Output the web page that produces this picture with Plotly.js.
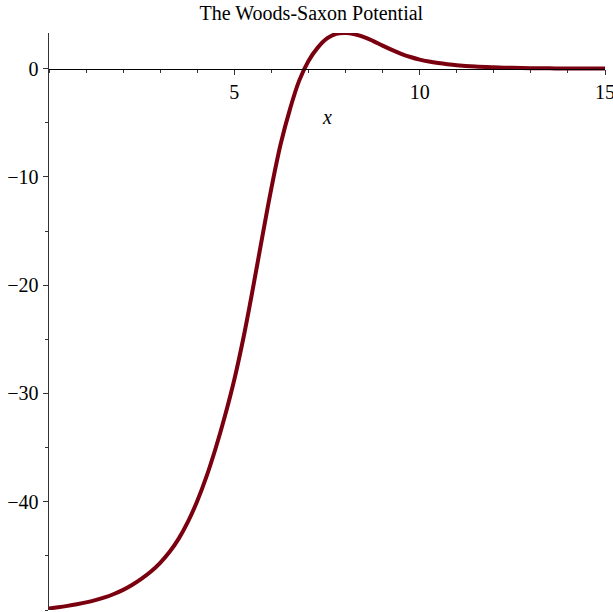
<!DOCTYPE html>
<html>
<head>
<meta charset="utf-8">
<script src="https://cdn.plot.ly/plotly-3.0.1.min.js"></script>
<style>html,body{margin:0;padding:0;background:#fff;}#plot{width:613px;height:612px;}</style>
</head>
<body>
<div id="plot"></div>
<script>
const xValues = [0, 0.25, 0.5, 0.75, 1.0, 1.25, 1.5, 1.75, 2.0, 2.25, 2.5, 2.75, 3.0, 3.25, 3.5, 3.75, 4.0, 4.25, 4.5, 4.75, 5.0, 5.25, 5.5, 5.75, 6.0, 6.25, 6.5, 6.75, 7.0, 7.25, 7.5, 7.75, 8.0, 8.25, 8.5, 8.75, 9.0, 9.25, 9.5, 9.75, 10.0, 10.25, 10.5, 10.75, 11.0, 11.5, 12.0, 12.5, 13.0, 13.5, 14.0, 15.0];
const potential = [-49.86, -49.75, -49.62, -49.47, -49.30, -49.09, -48.84, -48.52, -48.14, -47.67, -47.11, -46.45, -45.64, -44.65, -43.41, -41.84, -39.93, -37.66, -35.01, -32.04, -28.71, -24.78, -20.31, -15.61, -11.03, -6.96, -3.75, -1.1, 0.72, 1.95, 2.8, 3.22, 3.29, 3.17, 2.93, 2.55, 2.13, 1.74, 1.38, 1.08, 0.84, 0.66, 0.52, 0.41, 0.32, 0.2, 0.13, 0.08, 0.05, 0.035, 0.02, 0.01];
const yTickVals = [0, -10, -20, -30, -40];
const yTickText = ["0", "\u221210", "\u221220", "\u221230", "\u221240"];
const xTickVals = [5, 10, 15];
const xTickText = ["5", "10", "15"];
const titleText = "The Woods-Saxon Potential";
const xLabel = "x";

const font = {family: "Liberation Serif, Times New Roman, serif", size: 20, color: "#000"};
const yMin = -50, yMax = 3.3;

Plotly.newPlot("plot", [{
  x: xValues, y: potential, type: "scatter", mode: "lines",
  line: {color: "#7a0010", width: 4, shape: "spline", smoothing: 1},
  hoverinfo: "none"
}], {
  width: 613, height: 612,
  margin: {l: 49, r: 8, t: 33, b: 2},
  paper_bgcolor: "#fff", plot_bgcolor: "#fff",
  showlegend: false,
  font: font,
  title: {text: titleText, font: {family: font.family, size: 20, color: "#000"}, x: 0.508, xanchor: "center", y: 0.99, yanchor: "top"},
  xaxis: {
    range: [0, 15], anchor: "free", position: (0 - yMin) / (yMax - yMin),
    showgrid: false, zeroline: false, showline: true, linecolor: "#000", linewidth: 1.5,
    ticks: "outside", ticklen: 5, tickwidth: 1, tickcolor: "#333",
    tickvals: xTickVals, ticktext: xTickText, tickfont: font, ticklabeloverflow: "allow",
    minor: {dtick: 1, tick0: 0, ticks: "outside", ticklen: 3, tickcolor: "#333", showgrid: false}
  },
  yaxis: {
    range: [yMin, yMax],
    showgrid: false, zeroline: false, showline: true, linecolor: "#333", linewidth: 1.5,
    ticks: "outside", ticklen: 5, tickwidth: 1, tickcolor: "#333",
    tickvals: yTickVals, ticktext: yTickText, tickfont: font, ticklabeloverflow: "allow",
    minor: {dtick: 5, tick0: 0, ticks: "outside", ticklen: 3, tickcolor: "#333", showgrid: false}
  },
  annotations: [{
    text: "<i>" + xLabel + "</i>", x: 7.5, xref: "x",
    yref: "paper", y: 1 - (117 - 33) / 577, xanchor: "center", yanchor: "middle",
    showarrow: false, font: font
  }]
}, {staticPlot: true});
</script>
</body>
</html>
